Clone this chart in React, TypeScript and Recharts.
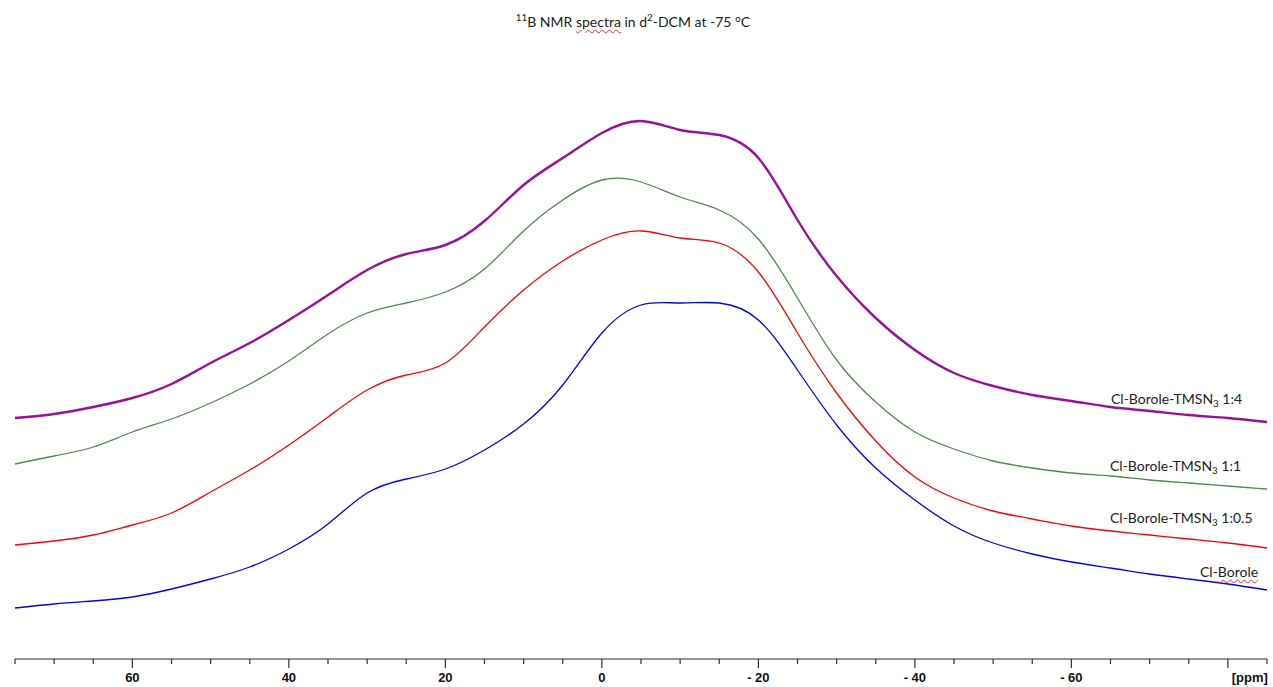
import React from 'react'
import { LineChart, Line, XAxis, YAxis } from 'recharts'

// chemical shift (ppm), left to right on the plot runs 75 -> -85
const ppm = [75, 70, 65, 60, 55, 50, 45, 40, 35, 30, 25, 20, 15, 10, 5, 0, -5, -10, -15, -20, -25, -30, -35, -40, -45, -50, -55, -60, -65, -70, -75, -80, -85]

// stacked intensities (arbitrary units, offset per trace)
const clBorole = [51, 55, 58, 62, 70, 80, 92, 110, 135, 166, 180, 190, 209, 235, 274, 326, 354, 356, 356, 339, 289, 234, 191, 159, 133, 116, 105, 97, 91, 85, 80, 75, 69]
const tmsn3Half = [114, 118, 124, 134, 146, 167, 189, 214, 242, 269, 284, 296, 332, 369, 398, 419, 428, 421, 416, 387, 326, 266, 218, 182, 161, 148, 140, 133, 128, 124, 120, 116, 111]
const tmsn3One = [195, 203, 212, 227, 240, 256, 275, 298, 325, 346, 356, 367, 390, 428, 459, 479, 477, 462, 449, 420, 361, 299, 257, 227, 210, 198, 191, 186, 183, 179, 176, 173, 170]
const tmsn3Four = [241, 245, 252, 261, 275, 296, 316, 339, 364, 389, 405, 414, 438, 474, 501, 526, 538, 529, 524, 501, 439, 383, 341, 309, 286, 273, 264, 258, 252, 248, 244, 241, 237]

const data = ppm.map((p, i) => ({
  ppm: p,
  clBorole: clBorole[i],
  half: tmsn3Half[i],
  one: tmsn3One[i],
  four: tmsn3Four[i],
}))

const font = 'Lato, "Noto Sans", sans-serif'
const squiggle = { textDecoration: 'underline wavy #e03030', textDecorationThickness: '1px', textUnderlineOffset: '2px' }

function PpmTick(props: any) {
  const { x, y, payload } = props
  const v = payload.value
  const major = v % 20 === 0
  const label = v < 0 ? '- ' + -v : String(v)
  return (
    <g>
      <line x1={x} x2={x} y1={y} y2={y + (major ? 9 : 5)} stroke="#333" strokeWidth={1.2} />
      {major && v !== -80 && (
        <text x={x} y={y + 23} textAnchor="middle" fontFamily='"Liberation Sans", Arial, sans-serif' fontWeight="bold" fontSize={13} fill="#111">
          {label}
        </text>
      )}
      {v === -80 && (
        <text x={x + 40} y={y + 23} textAnchor="end" fontFamily='"Liberation Sans", Arial, sans-serif' fontWeight="bold" fontSize={13} fill="#111">
          [ppm]
        </text>
      )}
    </g>
  )
}

function TraceLabel({ left, top, children }: { left: number; top: number; children: React.ReactNode }) {
  return (
    <div style={{ position: 'absolute', left, top, fontFamily: font, fontSize: 14, lineHeight: '16px', whiteSpace: 'nowrap', color: '#222' }}>
      {children}
    </div>
  )
}

const Sub3 = () => <sub style={{ fontSize: '0.7em', verticalAlign: '-0.3em', lineHeight: 0 }}>3</sub>

export default function App() {
  return (
    <div style={{ position: 'relative', width: 1273, height: 687, background: '#fff' }}>
      <style>{'body{margin:0}'}</style>
      <LineChart width={1273} height={687} data={data} margin={{ top: 40, right: 6, bottom: 0, left: 15 }}>
        <XAxis
          dataKey="ppm"
          type="number"
          domain={[-85, 75]}
          reversed
          ticks={ppm}
          interval={0}
          height={28}
          tickSize={0}
          tickMargin={0}
          tickLine={false}
          axisLine={{ stroke: '#707070', strokeWidth: 1.5 }}
          tick={<PpmTick />}
        />
        <YAxis hide domain={[0, 619]} />
        <Line dataKey="clBorole" type="natural" stroke="#0000ff" strokeWidth={1.3} dot={false} isAnimationActive={false} />
        <Line dataKey="half" type="natural" stroke="#ff0000" strokeWidth={1.3} dot={false} isAnimationActive={false} />
        <Line dataKey="one" type="natural" stroke="#4f8a4f" strokeWidth={1.3} dot={false} isAnimationActive={false} />
        <Line dataKey="four" type="natural" stroke="#9b0f9b" strokeWidth={2.4} dot={false} isAnimationActive={false} />
      </LineChart>

      <div style={{ position: 'absolute', left: 633, top: 13.6, transform: 'translateX(-50%)', fontFamily: font, fontSize: 14, lineHeight: '16px', whiteSpace: 'nowrap', color: '#222' }}>
        <sup style={{ fontSize: '0.7em', lineHeight: 0 }}>11</sup>B NMR <span style={squiggle}>spectra</span> in d<sup style={{ fontSize: '0.7em', lineHeight: 0 }}>2</sup>-DCM at -75 °C
      </div>

      <TraceLabel left={1111} top={390.6}>Cl-Borole-TMSN<Sub3 /> 1:4</TraceLabel>
      <TraceLabel left={1110} top={457.6}>Cl-Borole-TMSN<Sub3 /> 1:1</TraceLabel>
      <TraceLabel left={1110} top={509.6}>Cl-Borole-TMSN<Sub3 /> 1:0.5</TraceLabel>
      <TraceLabel left={1200} top={563.6}>Cl-<span style={squiggle}>Borole</span></TraceLabel>
    </div>
  )
}
